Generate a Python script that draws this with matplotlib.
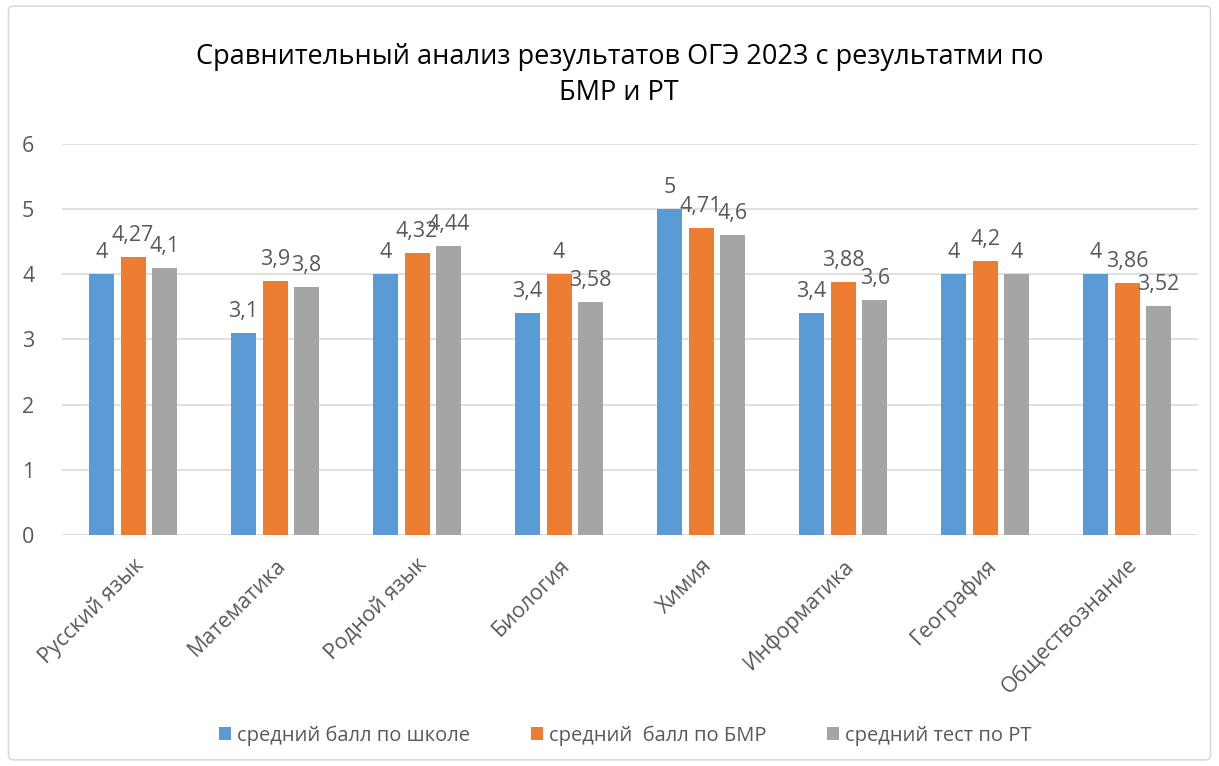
import matplotlib.pyplot as plt
import numpy as np
from matplotlib.patches import FancyBboxPatch

plt.rcParams['font.family'] = ['Open Sans', 'DejaVu Sans']

subjects = ['Русский язык', 'Математика', 'Родной язык', 'Биология',
            'Химия', 'Информатика', 'География', 'Обществознание']
school = [4, 3.1, 4, 3.4, 5, 3.4, 4, 4]
bmr = [4.27, 3.9, 4.32, 4, 4.71, 3.88, 4.2, 3.86]
rt = [4.1, 3.8, 4.44, 3.58, 4.6, 3.6, 4, 3.52]
series_names = ['средний балл по школе', 'средний  балл по БМР', 'средний тест по РТ']
colors = ['#5B9BD5', '#ED7D31', '#A5A5A5']

txt = '#595959'

fig = plt.figure(figsize=(12.19, 7.66), dpi=100)
fig.patches.append(FancyBboxPatch((0.007, 0.008), 0.986, 0.984, boxstyle='round,pad=0,rounding_size=0.005',
                                  transform=fig.transFigure, fill=False, edgecolor='#d9d9d9', lw=1.2))
ax = fig.add_axes([0.0509, 0.3016, 0.932, 0.5104])

x = np.arange(len(subjects))
w = 0.176
step = 0.222
for i, (vals, c, name) in enumerate(zip([school, bmr, rt], colors, series_names)):
    pos = x + (i - 1) * step
    bars = ax.bar(pos, vals, w, color=c, label=name, zorder=3)
    for p, v in zip(pos, vals):
        ax.text(p, v + 0.17, f'{v:g}'.replace('.', ','), ha='center', va='bottom',
                fontsize=15.5, color=txt)

ax.set_ylim(0, 6)
ax.set_xlim(-0.5, len(subjects) - 0.5)
ax.set_yticks(range(7))
ax.yaxis.grid(True, color='#d9d9d9', lw=1.2, zorder=0)
for s in ax.spines.values():
    s.set_visible(False)
ax.tick_params(axis='both', length=0, labelsize=15.5, labelcolor=txt)
ax.tick_params(axis='y', pad=20)
ax.set_xticks(x)
ax.set_xticklabels(subjects, rotation=45, ha='right', rotation_mode='anchor')
ax.tick_params(axis='x', pad=14)

fig.text(0.508, 0.926, 'Сравнительный анализ результатов ОГЭ 2023 с результатми по',
         ha='center', va='center', fontsize=19.5, color='black')
fig.text(0.508, 0.879, 'БМР и РТ', ha='center', va='center', fontsize=19.5, color='black')

fig.legend(loc='center', bbox_to_anchor=(0.513, 0.04), ncol=3, frameon=False,
           fontsize=14.5, labelcolor=txt, handlelength=0.6, handleheight=0.6,
           handletextpad=0.3, columnspacing=3)

fig.savefig('out.png', dpi=100)
